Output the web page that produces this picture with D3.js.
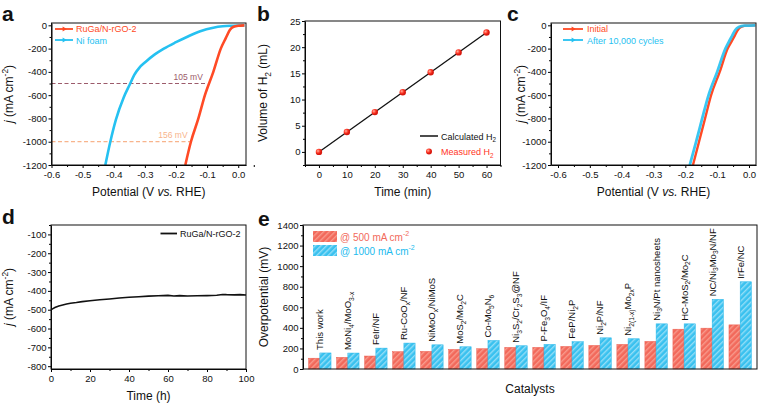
<!DOCTYPE html>
<html>
<head>
<meta charset="utf-8">
<script src="https://cdn.jsdelivr.net/npm/d3@7"></script>
<style>
  body { margin: 0; background: #fff; }
  svg { display: block; font-family: "Liberation Sans", Arial, sans-serif; }
</style>
</head>
<body>
<svg id="fig" width="758" height="406"></svg>
<script>
// ---------- data ----------

// a: LSV, potential (V vs RHE) vs j (mA cm-2)
const lsvRuGa = [[0.02,0],[0.0,-3],[-0.015,-12],[-0.027,-40],[-0.04,-110],[-0.056,-200],
  [-0.08,-400],[-0.107,-600],[-0.128,-800],[-0.152,-1000],[-0.170,-1200]];
const lsvNiFoam = [[0.02,0],[-0.016,-3],[-0.05,-8],[-0.08,-20],[-0.122,-50],[-0.165,-100],
  [-0.2,-145],[-0.239,-200],[-0.268,-250],[-0.298,-315],[-0.318,-365],[-0.334,-425],
  [-0.347,-500],[-0.368,-620],[-0.393,-810],[-0.411,-1000],[-0.427,-1200]];
const refCurrents = [-500, -1000];
const refEndV = [-0.104, -0.153];
const refLabels = ["105 mV", "156 mV"];

// b: hydrogen volume
const timeMin = [0, 10, 20, 30, 40, 50, 60];
const measuredH2 = [0, 3.8, 7.6, 11.4, 15.2, 19.0, 22.8];
const calculatedH2 = [[0, 0], [60, 22.8]];

// c: stability LSV
const lsvInitial = [[0.02,0],[-0.01,-3],[-0.025,-15],[-0.035,-40],[-0.045,-90],[-0.055,-140],
  [-0.067,-200],[-0.092,-400],[-0.119,-600],[-0.138,-800],[-0.157,-1000],[-0.176,-1200]];
const lsvCycled = [[0.02,0],[-0.015,-3],[-0.032,-15],[-0.043,-40],[-0.053,-90],[-0.063,-140],
  [-0.074,-200],[-0.1,-400],[-0.127,-600],[-0.147,-800],[-0.166,-1000],[-0.186,-1200]];

// d: chronopotentiometry
const timeH = [0, 1, 2, 4, 6, 8, 10, 13, 16, 20, 25, 30, 35, 40, 45, 50, 55, 60, 63, 66, 70, 75, 80, 85, 88, 90, 94, 97, 100];
const currentD = [-500, -494, -488, -480, -475, -470, -466, -462, -457, -452, -447, -443, -438, -434, -431, -428, -426, -424, -427, -425, -427, -426, -425, -423, -419, -420, -421, -420, -422];

// e: overpotential comparison
const catalysts = ["This work", "MoNi_{4}/MoO_{3-x}", "FeIr/NF", "Ru-CoO_{x}/NF", "NiMoO_{x}/NiMoS",
  "MoS_{2}/Mo_{2}C", "Co-Mo_{5}N_{6}", "Ni_{3}S_{2}/Cr_{2}S_{3}@NF", "P-Fe_{3}O_{4}/IF", "FeP/Ni_{2}P",
  "Ni_{2}P/NF", "Ni_{2(1-x)}Mo_{2x}P", "Ni_{3}N/Pt nanosheets", "HC-MoS_{2}/Mo_{2}C",
  "NC/Ni_{3}Mo_{3}N/NF", "IrFe/NC"];
const eta500 = [105, 113, 126, 168, 171, 190, 197, 210, 210, 219, 229, 239, 268, 387, 397, 429];
const eta1000 = [156, 155, 203, 252, 235, 216, 277, 226, 239, 265, 303, 294, 439, 439, 677, 848];

// ---------- helpers ----------
const svg = d3.select("#fig");
const RED = "#ff4a25", BLUE = "#25c1f1";

// "_{..}" subscript, "^{..}" superscript, "*..*" italic
function rich(sel, str, size) {
  const parts = str.match(/(_\{[^}]*\}|\^\{[^}]*\}|\*[^*]+\*|[^_^*]+)/g);
  let prev = 0;
  parts.forEach(p => {
    let txt = p, off = 0, small = false, ital = false;
    if (p.startsWith("_{")) { txt = p.slice(2, -1); off = size * 0.3; small = true; }
    else if (p.startsWith("^{")) { txt = p.slice(2, -1); off = -size * 0.42; small = true; }
    else if (p.startsWith("*")) { txt = p.slice(1, -1); ital = true; }
    const t = sel.append("tspan").text(txt).attr("dy", off - prev);
    prev = off;
    if (small) t.attr("font-size", size * 0.7);
    if (ital) t.attr("font-style", "italic");
  });
  return sel;
}

function label(x, y, str, size, opts = {}) {
  const t = svg.append("text")
    .attr("font-size", size)
    .attr("fill", opts.fill || "#111")
    .attr("text-anchor", opts.anchor || "start");
  if (opts.rotate) t.attr("transform", `translate(${x},${y}) rotate(-90)`);
  else t.attr("x", x).attr("y", y);
  if (opts.weight) t.attr("font-weight", opts.weight);
  return rich(t, str, size);
}

function axes(box, x, y, xt, yt, fmtX, fmtY) {
  if (xt) {
    const gx = svg.append("g").attr("transform", `translate(0,${box.b})`);
    gx.call(d3.axisBottom(x).tickValues(xt.major).tickSize(3).tickSizeOuter(0).tickFormat(fmtX));
    gx.append("g").call(d3.axisBottom(x).tickValues(xt.minor).tickSize(2).tickFormat(""))
      .select(".domain").remove();
    gx.selectAll("text").attr("font-size", 9.5).attr("fill", "#111").attr("font-family", null);
  }
  const gy = svg.append("g").attr("transform", `translate(${box.l},0)`);
  gy.call(d3.axisLeft(y).tickValues(yt.major).tickSize(3).tickSizeOuter(0).tickFormat(fmtY));
  gy.append("g").call(d3.axisLeft(y).tickValues(yt.minor).tickSize(2).tickFormat(""))
    .select(".domain").remove();
  gy.selectAll("text").attr("font-size", 9.5).attr("fill", "#111").attr("font-family", null)
    .attr("x", -4.5);
  svg.append("rect").attr("x", box.l).attr("y", box.t)
    .attr("width", box.r - box.l).attr("height", box.b - box.t)
    .attr("fill", "none").attr("stroke", "#111").attr("stroke-width", 1);
}

function range(a, b, s) { return d3.range(a, b + s / 2, s).map(v => +v.toFixed(4)); }
const fmt1 = d => d.toFixed(1);
const fmt0 = d => String(d);

function clip(id, box) {
  svg.append("clipPath").attr("id", id).append("rect")
    .attr("x", box.l).attr("y", box.t).attr("width", box.r - box.l).attr("height", box.b - box.t);
}

function legendLine(x1, x2, y, color, marker) {
  svg.append("line").attr("x1", x1).attr("x2", x2).attr("y1", y).attr("y2", y)
    .attr("stroke", color).attr("stroke-width", 1.8);
  if (marker) {
    svg.append("path").attr("d", d3.symbol(d3.symbolTriangle, 10)())
      .attr("transform", `translate(${(x1 + x2) / 2},${y}) rotate(90)`).attr("fill", color);
  }
}

const defs = svg.append("defs");
function hatch(id, base, stripe) {
  const p = defs.append("pattern").attr("id", id).attr("patternUnits", "userSpaceOnUse")
    .attr("width", 4).attr("height", 4).attr("patternTransform", "rotate(45)");
  p.append("rect").attr("width", 4).attr("height", 4).attr("fill", base);
  p.append("rect").attr("width", 1.4).attr("height", 4).attr("fill", stripe);
}
hatch("hatchR", "#f2695b", "#f89a8c");
hatch("hatchB", "#39c1ef", "#93def7");
const grad = defs.append("radialGradient").attr("id", "dot").attr("cx", "35%").attr("cy", "35%");
grad.append("stop").attr("offset", "0%").attr("stop-color", "#ffb0a0");
grad.append("stop").attr("offset", "60%").attr("stop-color", "#ff3a28");
grad.append("stop").attr("offset", "100%").attr("stop-color", "#d81a10");

// ---------- panel a ----------
{
  const box = { l: 51.5, r: 246, t: 23, b: 165 };
  const x = d3.scaleLinear().domain([-0.6, 0.025]).range([box.l, box.r]);
  const y = d3.scaleLinear().domain([-1200, 20]).range([box.b, box.t]);
  clip("clipA", box);
  const line = d3.line().x(d => x(d[0])).y(d => y(d[1])).curve(d3.curveMonotoneX);
  const refColors = ["#9c5b6b", "#f8b48c"];
  refCurrents.forEach((j, i) => {
    svg.append("line").attr("x1", box.l).attr("x2", x(refEndV[i]))
      .attr("y1", y(j)).attr("y2", y(j))
      .attr("stroke", refColors[i]).attr("stroke-width", 1.2).attr("stroke-dasharray", "4,2.5");
    label(x(refEndV[i]) - 3, y(j) - 4, refLabels[i], 8.5, { anchor: "end", fill: refColors[i] });
  });
  [[lsvNiFoam, BLUE], [lsvRuGa, RED]].forEach(([data, c]) => {
    svg.append("path").datum(data.slice().sort((a, b) => a[0] - b[0]))
      .attr("clip-path", "url(#clipA)")
      .attr("d", line).attr("fill", "none").attr("stroke", c).attr("stroke-width", 2.6);
  });
  axes(box, x, y, { major: range(-0.6, 0, 0.1), minor: range(-0.55, 0, 0.1) },
    { major: range(-1200, 0, 200), minor: range(-1100, 0, 200) }, fmt1, fmt0);
  legendLine(55, 73, 29, RED, true);
  label(76, 32, "RuGa/N-rGO-2", 9, { fill: RED });
  legendLine(55, 73, 40, BLUE, true);
  label(76, 43.5, "Ni foam", 9, { fill: BLUE });
  label(13, (box.t + box.b) / 2, "*j* (mA cm^{-2})", 12, { rotate: true, anchor: "middle" });
  label((box.l + box.r) / 2, 196, "Potential (V *vs.* RHE)", 12, { anchor: "middle" });
  label(2, 21, "a", 21, { weight: "bold" });
}

// ---------- panel b ----------
{
  const box = { l: 305, r: 500.5, t: 21, b: 165 };
  const x = d3.scaleLinear().domain([-5, 65]).range([box.l, box.r]);
  const y = d3.scaleLinear().domain([-2.5, 25]).range([box.b, box.t]);
  svg.append("path").datum(calculatedH2)
    .attr("d", d3.line().x(d => x(d[0])).y(d => y(d[1])))
    .attr("stroke", "#111").attr("stroke-width", 1.3).attr("fill", "none");
  svg.selectAll(".mh2").data(timeMin).enter().append("circle")
    .attr("cx", d => x(d)).attr("cy", (d, i) => y(measuredH2[i])).attr("r", 3.2)
    .attr("fill", "url(#dot)");
  axes(box, x, y, { major: range(0, 60, 10), minor: range(-5, 65, 10) },
    { major: range(0, 25, 5), minor: range(-2.5, 22.5, 5) }, fmt0, fmt0);
  svg.append("line").attr("x1", 420).attr("x2", 438).attr("y1", 136).attr("y2", 136)
    .attr("stroke", "#111").attr("stroke-width", 1.5);
  label(441, 139.5, "Calculated H_{2}", 9);
  svg.append("circle").attr("cx", 429).attr("cy", 151.5).attr("r", 3).attr("fill", "url(#dot)");
  label(441, 155, "Measured H_{2}", 9, { fill: "#ff3526" });
  label(267, (box.t + box.b) / 2, "Volume of H_{2} (mL)", 12, { rotate: true, anchor: "middle" });
  label((box.l + box.r) / 2, 196, "Time (min)", 12, { anchor: "middle" });
  label(257, 21, "b", 21, { weight: "bold" });
}

// ---------- panel c ----------
{
  const box = { l: 551, r: 756, t: 23, b: 165 };
  const x = d3.scaleLinear().domain([-0.622, 0.022]).range([box.l, box.r]);
  const y = d3.scaleLinear().domain([-1200, 20]).range([box.b, box.t]);
  clip("clipC", box);
  const line = d3.line().x(d => x(d[0])).y(d => y(d[1])).curve(d3.curveMonotoneX);
  [[lsvInitial, RED, 2.4], [lsvCycled, BLUE, 2.8]].forEach(([data, c, w]) => {
    svg.append("path").datum(data.slice().sort((a, b) => a[0] - b[0]))
      .attr("clip-path", "url(#clipC)")
      .attr("d", line).attr("fill", "none").attr("stroke", c).attr("stroke-width", w)
      .attr("stroke-opacity", c === BLUE ? 0.9 : 1);
  });
  axes(box, x, y, { major: range(-0.6, 0, 0.1), minor: range(-0.55, 0, 0.1) },
    { major: range(-1200, 0, 200), minor: range(-1100, 0, 200) }, fmt1, fmt0);
  legendLine(563, 583, 29, RED, true);
  label(587, 32, "Initial", 9, { fill: RED });
  legendLine(563, 583, 40, BLUE, true);
  label(587, 43.5, "After 10,000 cycles", 9, { fill: BLUE });
  label(525, (box.t + box.b) / 2, "*j* (mA cm^{-2})", 12, { rotate: true, anchor: "middle" });
  label((box.l + box.r) / 2, 196, "Potential (V *vs.* RHE)", 12, { anchor: "middle" });
  label(507, 21, "c", 21, { weight: "bold" });
}

// ---------- panel d ----------
{
  const box = { l: 51, r: 246, t: 225, b: 369 };
  const x = d3.scaleLinear().domain([0, 100]).range([box.l, box.r]);
  const y = d3.scaleLinear().domain([-815, -50]).range([box.b, box.t]);
  svg.append("path").datum(timeH)
    .attr("d", d3.line().x(d => x(d)).y((d, i) => y(currentD[i])))
    .attr("fill", "none").attr("stroke", "#111").attr("stroke-width", 1.6);
  axes(box, x, y, { major: range(0, 100, 20), minor: range(10, 90, 20) },
    { major: range(-800, -100, 100), minor: range(-750, -50, 100) }, fmt0, fmt0);
  svg.append("line").attr("x1", 160.5).attr("x2", 177).attr("y1", 233.5).attr("y2", 233.5)
    .attr("stroke", "#111").attr("stroke-width", 1.8);
  label(180, 236.8, "RuGa/N-rGO-2", 9);
  label(13, (box.t + box.b) / 2, "*j* (mA cm^{-2})", 12, { rotate: true, anchor: "middle" });
  label((box.l + box.r) / 2, 400, "Time (h)", 12, { anchor: "middle" });
  label(2, 224, "d", 21, { weight: "bold" });
}

// ---------- panel e ----------
{
  const box = { l: 303, r: 757, t: 225, b: 369 };
  const x0 = d3.scaleBand().domain(catalysts).range([box.l, box.r]).paddingInner(0.2).paddingOuter(0.2);
  const x1 = d3.scaleBand().domain(["500", "1000"]).range([0, x0.bandwidth()]);
  const y = d3.scaleLinear().domain([0, 1400]).range([box.b, box.t]);
  const series = [["500", eta500, "url(#hatchR)", "#ee5c4d"], ["1000", eta1000, "url(#hatchB)", "#22b6ea"]];
  series.forEach(([k, vals, fill, stroke]) => {
    svg.selectAll(".bar" + k).data(catalysts).enter().append("rect")
      .attr("x", d => x0(d) + x1(k)).attr("width", x1.bandwidth())
      .attr("y", (d, i) => y(vals[i])).attr("height", (d, i) => box.b - y(vals[i]))
      .attr("fill", fill).attr("stroke", stroke).attr("stroke-width", 0.5);
  });
  catalysts.forEach((c, i) => {
    const top = y(Math.max(eta500[i], eta1000[i])) - 3;
    const t = svg.append("text").attr("font-size", 9.5).attr("fill", "#111")
      .attr("transform", `translate(${x0(c) + x0.bandwidth() / 2 + 3.4},${top}) rotate(-90)`);
    rich(t, c, 9.5);
  });
  axes(box, null, y, null, { major: range(0, 1400, 200), minor: range(100, 1300, 200) }, null, fmt0);
  svg.append("rect").attr("x", 313).attr("y", 231).attr("width", 24).attr("height", 11)
    .attr("fill", "url(#hatchR)");
  label(340, 240.5, "@ 500 mA cm^{-2}", 10, { fill: "#f26a5b" });
  svg.append("rect").attr("x", 313).attr("y", 245).attr("width", 24).attr("height", 11)
    .attr("fill", "url(#hatchB)");
  label(340, 254.5, "@ 1000 mA cm^{-2}", 10, { fill: "#22bbee" });
  label(268, (box.t + box.b) / 2, "Overpotential (mV)", 12, { rotate: true, anchor: "middle" });
  label((box.l + box.r) / 2, 393, "Catalysts", 12, { anchor: "middle" });
  label(258, 226, "e", 21, { weight: "bold" });
}
</script>
</body>
</html>
